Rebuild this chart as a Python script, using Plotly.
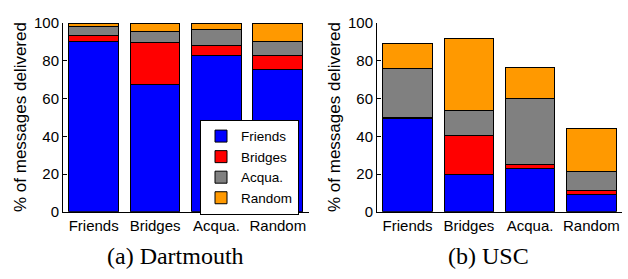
import plotly.graph_objects as go

categories = ["Friends", "Bridges", "Acqua.", "Random"]
series_names = ["Friends", "Bridges", "Acqua.", "Random"]
colors = ["#0000FF", "#FF0000", "#808080", "#FF9900"]

# Dartmouth: contribution of each forwarding class (stacked), per strategy
dart_friends = [90.0, 67.7, 83.0, 75.5]
dart_bridges = [3.2, 22.2, 5.0, 7.4]
dart_acqua = [5.1, 5.6, 8.5, 7.1]
dart_random = [1.7, 4.5, 3.5, 10.0]

# USC
usc_friends = [49.4, 20.0, 23.2, 9.1]
usc_bridges = [0.8, 20.5, 1.8, 2.2]
usc_acqua = [25.8, 13.1, 35.2, 10.2]
usc_random = [13.4, 38.2, 16.4, 22.4]

y_ticks = [0, 20, 40, 60, 80, 100]
y_title = "% of messages delivered"
captions = ["(a) Dartmouth", "(b) USC"]

W, H = 628, 279
def px_x(v):
    return v / W
def px_y(v):
    return (H - v) / H

fig = go.Figure()
dart = [dart_friends, dart_bridges, dart_acqua, dart_random]
usc = [usc_friends, usc_bridges, usc_acqua, usc_random]
for i, name in enumerate(series_names):
    fig.add_trace(go.Bar(x=categories, y=dart[i], name=name, marker_color=colors[i],
                         marker_line=dict(color="black", width=1), legendgroup=name,
                         showlegend=True, xaxis="x", yaxis="y"))
    fig.add_trace(go.Bar(x=categories, y=usc[i], name=name, marker_color=colors[i],
                         marker_line=dict(color="black", width=1), legendgroup=name,
                         showlegend=False, xaxis="x2", yaxis="y2"))

font_sans = "Liberation Sans, Arial, Helvetica, sans-serif"
font_serif = "Liberation Serif, Times New Roman, serif"
TICK_FS = 15

xcommon = dict(type="category", range=[-0.5, 3.5], showline=True, linecolor="black",
               linewidth=1, ticks="", showgrid=False, zeroline=False,
               tickfont=dict(family=font_sans, size=TICK_FS, color="black"), fixedrange=True)
ycommon = dict(range=[0, 100], tickvals=y_ticks, showline=True, linecolor="black",
               linewidth=1, ticks="inside", ticklen=4, tickcolor="black", showgrid=False,
               zeroline=False, tickfont=dict(family=font_sans, size=TICK_FS, color="black"),
               ticklabelstandoff=0)

ydom = [px_y(216), px_y(15)]
fig.update_layout(
    width=W, height=H,
    margin=dict(l=0, r=0, t=0, b=0),
    paper_bgcolor="white", plot_bgcolor="white",
    barmode="stack", bargap=0.19,
    xaxis=dict(domain=[px_x(63), px_x(308.5)], anchor="y", **xcommon),
    yaxis=dict(domain=ydom, anchor="x", **ycommon),
    xaxis2=dict(domain=[px_x(377), px_x(622)], anchor="y2", **xcommon),
    yaxis2=dict(domain=ydom, anchor="x2", **ycommon),
    legend=dict(x=px_x(200), y=px_y(118), xanchor="left", yanchor="top",
                bgcolor="white", bordercolor="black", borderwidth=1,
                font=dict(family=font_sans, size=13.5, color="black"),
                tracegroupgap=0, itemwidth=30),
    showlegend=True,
)

fig.add_annotation(text=y_title, x=px_x(21), y=px_y(115), xref="paper", yref="paper",
                   textangle=-90, showarrow=False, xanchor="center", yanchor="middle",
                   font=dict(family=font_sans, size=17, color="black"))
fig.add_annotation(text=y_title, x=px_x(335), y=px_y(115), xref="paper", yref="paper",
                   textangle=-90, showarrow=False, xanchor="center", yanchor="middle",
                   font=dict(family=font_sans, size=17, color="black"))
fig.add_annotation(text=captions[0], x=px_x(175), y=px_y(263), xref="paper", yref="paper",
                   showarrow=False, xanchor="center", yanchor="middle",
                   font=dict(family=font_serif, size=24, color="black"))
fig.add_annotation(text=captions[1], x=px_x(488.5), y=px_y(263), xref="paper", yref="paper",
                   showarrow=False, xanchor="center", yanchor="middle",
                   font=dict(family=font_serif, size=24, color="black"))

fig.write_html("out.html", config={"displayModeBar": False, "responsive": False},
               post_script="document.body.style.margin='0';document.body.style.overflow='hidden';")
